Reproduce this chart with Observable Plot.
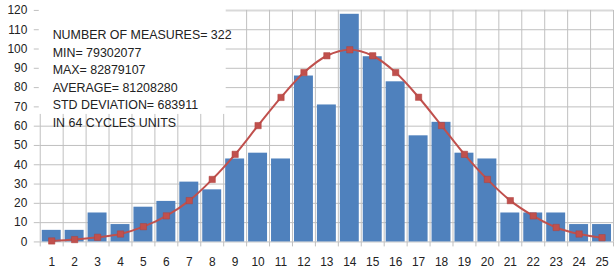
<!DOCTYPE html>
<html>
<head>
<meta charset="utf-8">
<script src="https://cdn.jsdelivr.net/npm/d3@7"></script>
<script src="https://cdn.jsdelivr.net/npm/@observablehq/plot@0.6"></script>
<style>
  html, body { margin: 0; padding: 0; background: #fff; overflow: hidden; }
  #chart svg { display: block; }
</style>
</head>
<body>
<div id="chart"></div>
<script>
// ---- data ----
const categories = [1,2,3,4,5,6,7,8,9,10,11,12,13,14,15,16,17,18,19,20,21,22,23,24,25];
const counts     = [6,6,15,9,18,21,31,27,43,46,43,86,71,118,96,83,55,62,46,43,15,15,15,9,9];
const normalFit  = [0.5,1.2,2.4,4.1,7.9,13.5,21.4,32.4,45.4,60.3,74.9,87.8,96.5,99.6,96.5,87.8,75.0,60.3,45.4,32.4,21.4,13.5,7.5,4.1,2.2];
const yTicks     = [0,10,20,30,40,50,60,70,80,90,100,110,120];
const statsLines = [
  "NUMBER OF MEASURES= 322",
  "MIN= 79302077",
  "MAX= 82879107",
  "AVERAGE= 81208280",
  "STD DEVIATION= 683911",
  "IN 64 CYCLES UNITS"
];

const rows = categories.map((c, i) => ({cat: c, count: counts[i], normal: normalFit[i]}));
const boundaries = categories.map(c => c - 0.5).concat([categories[categories.length - 1] + 0.5]);

const gridColor = "#bfbfbf";
const font = "Liberation Sans, Arial, sans-serif";

const chart = Plot.plot({
  width: 618,
  height: 275,
  marginLeft: 40,
  marginRight: 1,
  marginTop: 10,
  marginBottom: 32,
  style: {fontFamily: font, fontSize: "12px", color: "#222", background: "#fff"},
  x: {domain: [boundaries[0], boundaries[boundaries.length - 1]], axis: null, label: null},
  y: {domain: [0, 120], axis: null, label: null},
  marks: [
    Plot.ruleY(yTicks.slice(0, -1), {stroke: gridColor, strokeWidth: 1}),
    Plot.ruleY(yTicks.slice(-1), {stroke: "#d9d9d9", strokeWidth: 2}),
    Plot.ruleX(boundaries, {stroke: gridColor, strokeWidth: 1}),
    Plot.axisY({ticks: yTicks, label: null, tickSize: 6, tickPadding: 7, stroke: gridColor, fill: "#222", fontSize: 12, tickFormat: d => String(d)}),
    Plot.axisX({ticks: boundaries, label: null, tickSize: 5, stroke: gridColor, tickFormat: () => ""}),
    Plot.axisX({ticks: categories, label: null, tickSize: 0, tickPadding: 16, fill: "#222", fontSize: 12, tickFormat: d => String(d)}),
    Plot.text([statsLines.join("\n")], {
      text: d => d,
      frameAnchor: "top-left",
      textAnchor: "start",
      lineAnchor: "top",
      dx: 12.5,
      dy: 16.5,
      lineHeight: 1.41,
      fontSize: 12.5,
      fill: "#222"
    }),
    Plot.rectY(rows, {
      x1: d => d.cat - 0.5,
      x2: d => d.cat + 0.5,
      y: "count",
      fill: "#4f81bd",
      insetLeft: 2,
      insetRight: 2
    }),
    Plot.line(rows, {x: "cat", y: "normal", stroke: "#c0504d", strokeWidth: 2, curve: "catmull-rom"}),
    Plot.dot(rows, {x: "cat", y: "normal", symbol: "square", r: 3.6, fill: "#c0504d", stroke: "#b0403d", strokeWidth: 0.5})
  ]
});

document.getElementById("chart").appendChild(chart);

// white background box behind the statistics text (as in the reference)
const textG = chart.querySelector('g[aria-label="text"]');
if (textG) {
  const bb = textG.getBBox();
  const rect = document.createElementNS("http://www.w3.org/2000/svg", "rect");
  const x0 = 39;
  rect.setAttribute("x", x0);
  rect.setAttribute("y", bb.y - 9);
  rect.setAttribute("width", bb.x + bb.width + 7 - x0);
  rect.setAttribute("height", bb.height + 10);
  rect.setAttribute("fill", "#fff");
  textG.parentNode.insertBefore(rect, textG);
}
</script>
</body>
</html>
